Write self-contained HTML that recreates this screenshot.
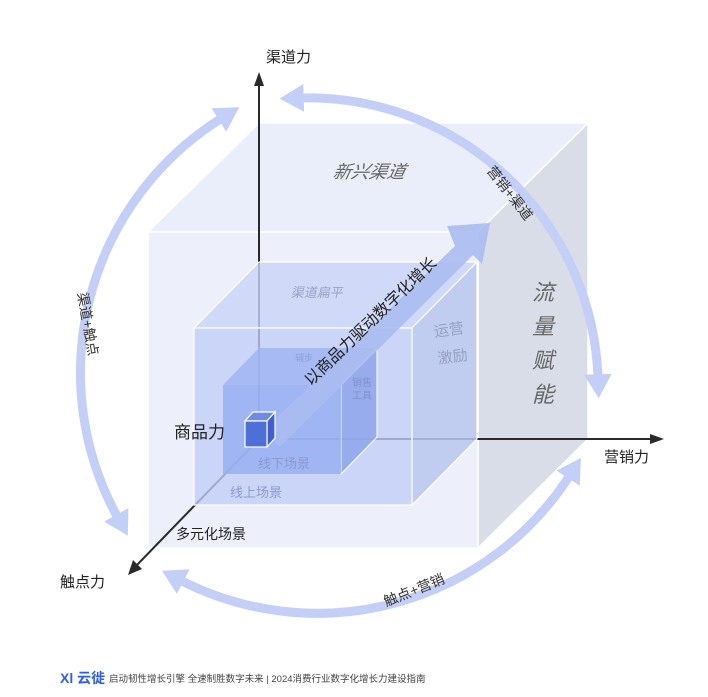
<!DOCTYPE html>
<html><head><meta charset="utf-8"><style>
html,body{margin:0;padding:0;background:#fff;}
svg{display:block;font-family:"Liberation Sans","Noto Sans CJK SC",sans-serif;}
</style></head><body>
<svg width="708" height="697" viewBox="0 0 708 697" xmlns="http://www.w3.org/2000/svg">
<defs>
<marker id="ah" markerUnits="userSpaceOnUse" viewBox="0 0 26 30" markerWidth="24" markerHeight="28" refX="4" refY="15" orient="auto-start-reverse">
<path d="M0,0 L26,15 L0,30 Z" fill="#c3cff6"/>
</marker>
</defs>

<polygon points="148,232 259,123 588,123 478,232" fill="#eaeefb" stroke="#fff" stroke-width="1.5"/>
<polygon points="478,232 588,123 588,439 478,548" fill="#d9dde7" stroke="#fff" stroke-width="1.5"/>
<rect x="148" y="232" width="330" height="316" fill="#edf0fb" stroke="#fff" stroke-width="1.5"/>

<line x1="259" y1="439" x2="259" y2="84" stroke="#2a2a2a" stroke-width="2"/>
<polygon points="259,72 254,86 264,86" fill="#2a2a2a"/>
<line x1="259" y1="439" x2="652" y2="439" stroke="#2a2a2a" stroke-width="2"/>
<polygon points="664,439 650,434 650,444" fill="#2a2a2a"/>
<line x1="259" y1="439" x2="136" y2="566" stroke="#2a2a2a" stroke-width="2"/>
<polygon points="128,575 133,560 142,569" fill="#2a2a2a"/>

<polygon points="194,328 259,262 477,262 412,328" fill="#c8d3f6" fill-opacity="0.8" stroke="#fff" stroke-width="1.2"/>
<polygon points="412,328 477,262 477,439 412,505" fill="#b9c6ee" fill-opacity="0.85" stroke="#fff" stroke-width="1.2"/>
<rect x="194" y="328" width="218" height="177" fill="#c0cdf7" fill-opacity="0.78" stroke="#fff" stroke-width="1.2"/>

<polygon points="223,385 259,348 377,348 341,385" fill="#9db3f3" fill-opacity="0.8"/>
<polygon points="341,385 377,348 377,437 341,474" fill="#8ea5ea" fill-opacity="0.85" stroke="#fff" stroke-width="1"/>
<rect x="223" y="385" width="118" height="89" fill="#93acf3" fill-opacity="0.8"/>

<polygon points="262,432 455,246 447,226 490,223 482,264 473,255 280,447" fill="#aabbef" fill-opacity="0.9"/>

<polygon points="245,421 253,412 275,412 267,421" fill="#6f8ce3" stroke="#fff" stroke-width="1.2"/>
<polygon points="267,421 275,412 275,438 267,447" fill="#3f5fcf" stroke="#fff" stroke-width="1.2"/>
<rect x="245" y="421" width="22" height="26" fill="#4e6ed8" stroke="#fff" stroke-width="1.2"/>

<path d="M222,118 A300,300 0 0 0 118,518" fill="none" stroke="#c3cff6" stroke-width="9" marker-start="url(#ah)" marker-end="url(#ah)"/>
<path d="M300,98 A290,290 0 0 1 598,378" fill="none" stroke="#c3cff6" stroke-width="9" marker-start="url(#ah)" marker-end="url(#ah)"/>
<path d="M180,580 A300,300 0 0 0 570,475" fill="none" stroke="#c3cff6" stroke-width="9" marker-start="url(#ah)" marker-end="url(#ah)"/>

<text x="266" y="62" font-size="15" fill="#222">渠道力</text>
<text x="604" y="462" font-size="15" fill="#222">营销力</text>
<text x="60" y="587" font-size="15" fill="#222">触点力</text>
<text x="174" y="438" font-size="17" fill="#222">商品力</text>
<text x="176" y="539" font-size="14" fill="#222">多元化场景</text>
<text x="230" y="497" font-size="13" fill="#8c9ad0">线上场景</text>
<text x="258" y="468" font-size="13" fill="#8c9ad0">线下场景</text>
<text x="332" y="178" font-size="18" fill="#666" font-style="italic" transform="skewX(-12) translate(38,0)">新兴渠道</text>
<text x="292" y="297" font-size="13" fill="#98a1c8" transform="skewX(-12) translate(62,0)">渠道扁平</text>
<text x="295" y="361" font-size="9" fill="#8fa0d6">辅步</text>
<g font-size="10" fill="#7f92cf"><text x="352" y="386">销售</text><text x="352" y="399">工具</text></g>
<g font-size="15" fill="#96a0c0" transform="rotate(-8 450 345)"><text x="436" y="335">运营</text><text x="436" y="362">激励</text></g>
<g font-size="22" fill="#666" font-style="italic">
<text x="532" y="300">流</text><text x="532" y="334">量</text><text x="532" y="368">赋</text><text x="532" y="402">能</text>
</g>
<text transform="translate(370,321) rotate(-44)" text-anchor="middle" font-size="16" fill="#222" dy="6">以商品力驱动数字化增长</text>
<text transform="translate(510,193) rotate(52)" text-anchor="middle" font-size="14" fill="#333" dy="5">营销+渠道</text>
<text transform="translate(88,324) rotate(80)" text-anchor="middle" font-size="14" fill="#333" dy="5">渠道+触点</text>
<text transform="translate(414,590) rotate(-22)" text-anchor="middle" font-size="14" fill="#333" dy="5">触点+营销</text>

<text x="60" y="683" font-size="14" fill="#2f5ee8" font-weight="bold">Xl 云徙</text>
<text x="109" y="682" font-size="9.5" fill="#444">启动韧性增长引擎  全速制胜数字未来 | 2024消费行业数字化增长力建设指南</text>
</svg>
</body></html>
